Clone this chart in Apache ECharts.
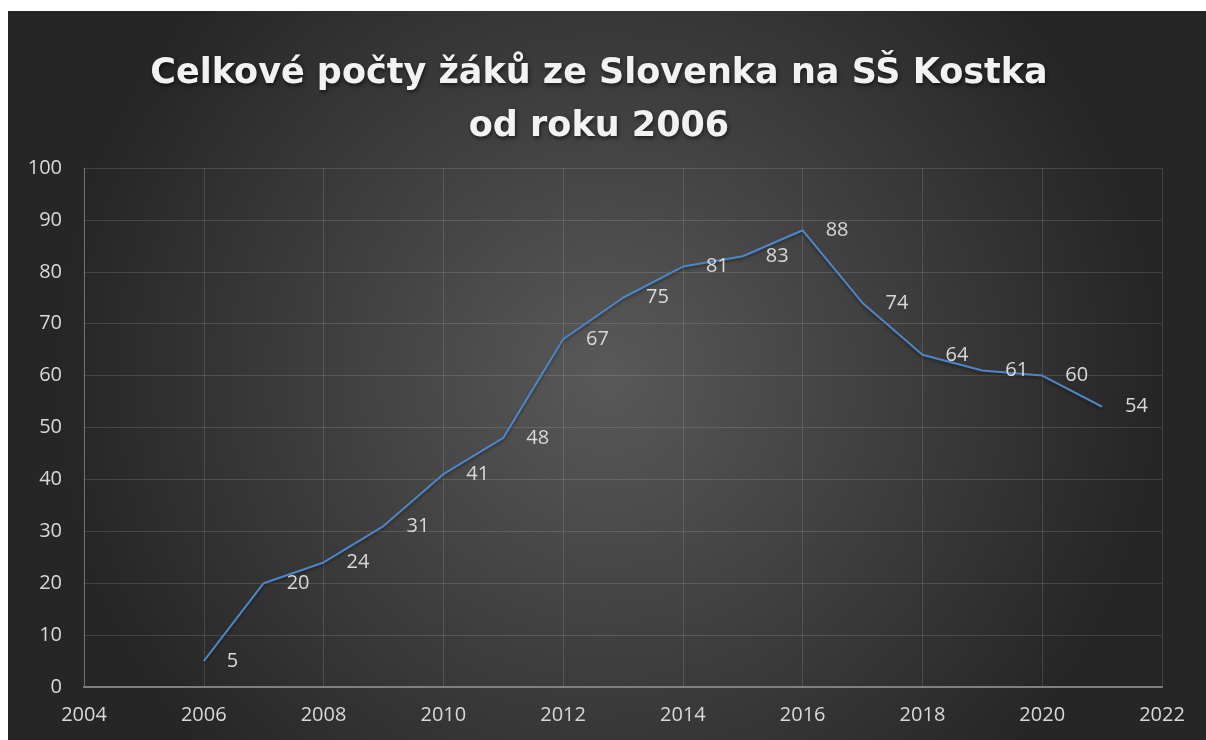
<!DOCTYPE html>
<html>
<head>
<meta charset="utf-8">
<script src="https://cdn.jsdelivr.net/npm/echarts@6/dist/echarts.min.js"></script>
<style>
html,body{margin:0;padding:0;background:#fff;width:1206px;height:740px;overflow:hidden;}
#c{position:absolute;left:8px;top:11px;width:1198px;height:729px;}
</style>
</head>
<body>
<div id="c"></div>
<script>
const titleText = 'Celkové počty žáků ze Slovenka na SŠ Kostka\nod roku 2006';
const years = [2006, 2007, 2008, 2009, 2010, 2011, 2012, 2013, 2014, 2015, 2016, 2017, 2018, 2019, 2020, 2021];
const pupils = [5, 20, 24, 31, 41, 48, 67, 75, 81, 83, 88, 74, 64, 61, 60, 54];

const chart = echarts.init(document.getElementById('c'));
const font = '"Open Sans", "Noto Sans", sans-serif';
chart.setOption({
  backgroundColor: {
    type: 'radial', x: 0.5, y: 0.5, r: 0.75,
    colorStops: [{offset: 0, color: '#595959'}, {offset: 1, color: '#262626'}]
  },
  title: {
    text: titleText,
    left: 586, top: 31, textAlign: 'center',
    textStyle: {
      fontFamily: '"DejaVu Sans", sans-serif', fontWeight: 'bold', fontSize: 35, color: '#f2f2f2',
      lineHeight: 53,
      textShadowColor: 'rgba(0,0,0,0.6)', textShadowBlur: 4, textShadowOffsetX: 1, textShadowOffsetY: 2
    }
  },
  grid: {left: 76, right: 44, top: 157, bottom: 53, containLabel: false},
  xAxis: {
    type: 'value', min: 2004, max: 2022, interval: 2,
    axisLine: {show: true, lineStyle: {color: '#808080', width: 2}},
    axisTick: {show: false},
    axisLabel: {color: '#d9d9d9', fontFamily: font, fontSize: 20, margin: 18, formatter: v => String(v)},
    splitLine: {show: true, lineStyle: {color: 'rgba(255,255,255,0.13)', width: 1}}
  },
  yAxis: {
    type: 'value', min: 0, max: 100, interval: 10,
    axisLine: {show: true, lineStyle: {color: 'rgba(255,255,255,0.25)', width: 1}},
    axisTick: {show: false},
    axisLabel: {color: '#d9d9d9', fontFamily: font, fontSize: 20, margin: 22},
    splitLine: {show: true, lineStyle: {color: 'rgba(255,255,255,0.13)', width: 1}}
  },
  series: [{
    type: 'line',
    data: years.map((y, i) => [y, pupils[i]]),
    showSymbol: true,
    symbol: 'circle',
    symbolSize: 2,
    itemStyle: {color: 'rgba(0,0,0,0)', borderWidth: 0},
    lineStyle: {color: '#4f86c6', width: 2, shadowColor: 'rgba(0,0,0,0.4)', shadowBlur: 3, shadowOffsetY: 2},
    label: {
      show: true, position: 'right', distance: 22, offset: [1, 2],
      color: '#d9d9d9', fontFamily: font, fontSize: 20
    },
    labelLayout: {hideOverlap: false},
    animation: false
  }],
  animation: false
});
</script>
</body>
</html>
